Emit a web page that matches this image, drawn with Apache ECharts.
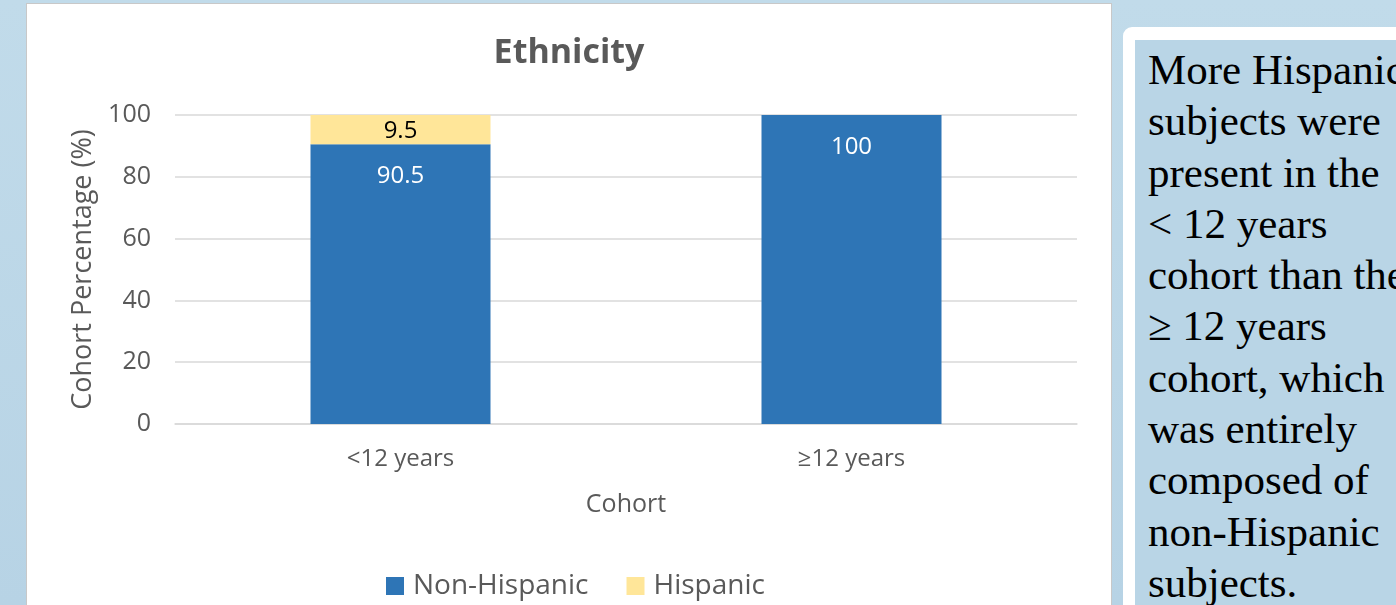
<!DOCTYPE html>
<html>
<head>
<meta charset="utf-8">
<script src="https://cdn.jsdelivr.net/npm/echarts@6/dist/echarts.min.js"></script>
<style>
  html, body {
    margin: 0;
    padding: 0;
    width: 1396px;
    height: 605px;
    overflow: hidden;
    background: linear-gradient(#c1dbea, #b7d3e5);
    position: relative;
  }
  .panel {
    position: absolute;
    left: 26px;
    top: 3px;
    width: 1086px;
    height: 610px;
    background: #fff;
    border: 1px solid #c8c8c8;
    box-sizing: border-box;
  }
  .chart {
    width: 100%;
    height: 100%;
  }
  .note {
    position: absolute;
    left: 1123px;
    top: 27px;
    width: 300px;
    height: 600px;
    background: #fff;
    border-radius: 9px;
  }
  .note-inner {
    position: absolute;
    left: 12px;
    top: 13px;
    right: 0;
    bottom: 0;
    background: #b9d5e6;
    padding: 4px 0 0 13px;
    font-family: "Liberation Serif", serif;
    font-size: 43px;
    line-height: 51.3px;
    color: #000;
    white-space: nowrap;
    overflow: hidden;
  }
</style>
</head>
<body>
<div class="panel"><div class="chart" id="chart"></div></div>
<div class="note"><div class="note-inner">More Hispanic<br>subjects were<br>present in the<br>&lt; 12 years<br>cohort than the<br>≥ 12 years<br>cohort, which<br>was entirely<br>composed of<br>non-Hispanic<br>subjects.</div></div>
<script>
// 数据
const categories = ['<12 years', '≥12 years']
const nonHispanic = [90.5, 100]
const hispanic = [9.5, 0]
const yMin = 0
const yMax = 100
const yStep = 20

const font = '"Open Sans", "Noto Sans", sans-serif'
const grey = '#595959'

const myChart = echarts.init(document.getElementById('chart'))

const barConfig = {
  type: 'bar',
  stack: 'total',
  barWidth: 180
}

const option = {
  animation: false,
  title: {
    text: 'Ethnicity',
    left: 'center',
    top: 27,
    textStyle: {
      fontFamily: font,
      fontSize: 34,
      fontWeight: 'bold',
      color: grey
    }
  },
  legend: {
    bottom: 7,
    left: 354,
    itemWidth: 18,
    itemHeight: 18,
    itemGap: 38,
    icon: 'rect',
    textStyle: {
      fontFamily: font,
      fontSize: 28,
      color: grey,
      padding: [0, 0, 0, 4]
    }
  },
  grid: {
    left: 148,
    right: 34,
    top: 111,
    bottom: 188
  },
  xAxis: {
    type: 'category',
    data: categories,
    name: 'Cohort',
    nameLocation: 'middle',
    nameGap: 68,
    nameTextStyle: {
      fontFamily: font,
      fontSize: 25,
      color: grey
    },
    axisLine: { lineStyle: { color: '#d9d9d9', width: 1.5 } },
    axisTick: { show: false },
    axisLabel: {
      margin: 23,
      fontFamily: font,
      fontSize: 24,
      color: grey
    }
  },
  yAxis: {
    type: 'value',
    min: yMin,
    max: yMax,
    interval: yStep,
    name: 'Cohort Percentage (%)',
    nameLocation: 'middle',
    nameGap: 76,
    nameTextStyle: {
      fontFamily: font,
      fontSize: 27,
      color: grey
    },
    axisLabel: {
      margin: 24,
      fontFamily: font,
      fontSize: 25,
      color: grey
    },
    splitLine: { lineStyle: { color: '#d9d9d9', width: 1.5 } }
  },
  series: [
    {
      name: 'Non-Hispanic',
      color: '#2e75b6',
      data: nonHispanic,
      label: {
        show: true,
        position: 'insideTop',
        distance: 20,
        fontFamily: font,
        fontSize: 24,
        color: '#fff'
      },
      ...barConfig
    },
    {
      name: 'Hispanic',
      color: '#ffe699',
      data: hispanic,
      label: {
        show: true,
        position: 'inside',
        offset: [0, 1],
        fontFamily: font,
        fontSize: 24,
        color: '#000',
        formatter: (p) => (p.value > 0 ? p.value : '')
      },
      ...barConfig
    }
  ]
}

myChart.setOption(option)
</script>
</body>
</html>
